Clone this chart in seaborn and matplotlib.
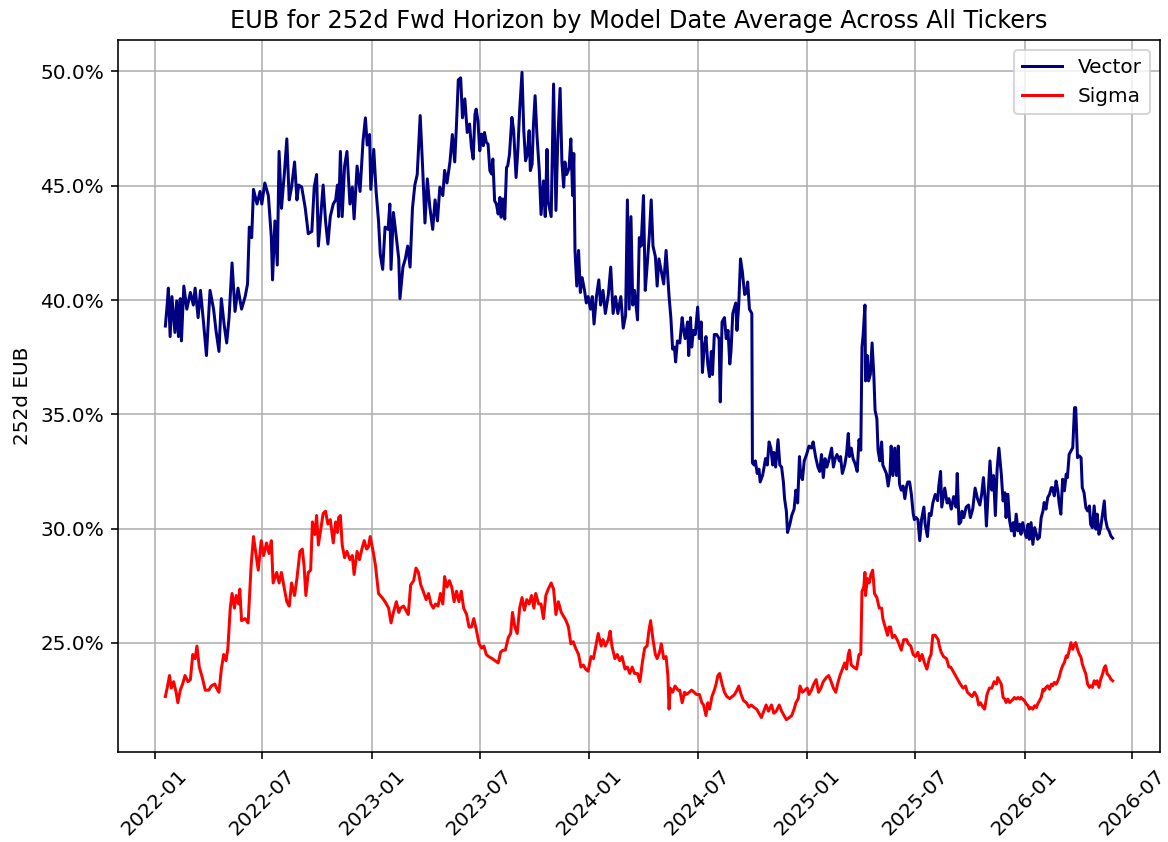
import numpy as np
import pandas as pd
import matplotlib
matplotlib.use("Agg")
import matplotlib.pyplot as plt
import matplotlib.dates as mdates
from matplotlib.ticker import PercentFormatter
import seaborn as sns

# ---------------- data ----------------
start_date = "2022-01-01"   # day offsets below count from this date

vector_day = [
    18, 21, 23, 26, 29, 34, 37, 40, 43, 45, 49, 54, 60, 65, 68, 73, 77, 82, 87, 93,
    99, 103, 108, 112, 117, 121, 125, 130, 135, 140, 146, 152, 156, 159, 163, 166, 172, 177, 180, 185,
    191, 196, 198, 202, 206, 209, 213, 218, 222, 226, 230, 235, 239, 242, 247, 253, 258, 264, 268, 272,
    275,
    283, 287, 291, 295, 300, 304, 307, 309, 312, 315, 319, 323, 328, 332, 335, 340, 345, 350, 354, 357,
    361, 363, 368, 372, 376, 379, 383, 387, 392, 395, 397, 401, 406, 410, 412, 417, 421, 425, 429, 433,
    437, 441, 446, 450, 454, 458, 462, 467, 471, 475, 479, 484, 487, 491, 496, 500, 504, 507, 510, 514,
    517, 521, 525,
    529, 532, 535, 538, 540, 543, 546, 549, 552, 554, 557, 560, 563, 566, 568, 571, 574, 577, 580, 582,
    585, 588, 591, 593, 596, 600, 603, 607, 610, 613, 617, 620, 623, 626, 629, 631, 634, 636, 639, 642,
    646, 649, 653, 656, 659, 661, 666, 670, 674, 677, 681, 684, 687, 689, 692, 696, 699, 702, 704, 706,
    709, 712, 715, 718, 722, 725, 728, 732, 735, 738, 742, 746, 749, 753, 757, 762, 766, 770, 774, 778,
    783, 787, 791, 794, 797, 800, 803, 806, 811, 814, 817, 821, 824, 827, 831, 834, 837, 841, 844, 847,
    851, 855, 859,
    864, 867, 870, 873, 875, 878, 882, 886, 888, 891, 895, 897, 900, 902, 905, 908, 912, 915, 918, 920,
    923, 926, 929, 932, 935, 937, 940, 944, 948, 950, 953, 957, 960, 963, 966, 968, 971, 976, 978, 981,
    984, 987, 991, 994, 996, 999, 1003, 1004, 1007, 1009, 1012, 1015, 1017, 1021, 1023, 1026, 1029, 1032, 1035, 1038,
    1040, 1043, 1047, 1050, 1053, 1056, 1058, 1061, 1063, 1067, 1070, 1074, 1077, 1080, 1083, 1085, 1088, 1091, 1095, 1099,
    1103, 1106, 1110, 1114, 1117, 1120, 1123, 1126, 1129, 1133, 1137, 1140, 1143, 1146, 1150, 1152, 1155,
    1159, 1162, 1165, 1167, 1170, 1173, 1176, 1180, 1183, 1186, 1188, 1190, 1193, 1194, 1197, 1199, 1202, 1205, 1208, 1210,
    1213, 1215, 1218, 1221, 1223, 1226, 1229, 1232, 1235, 1237, 1240, 1243, 1246, 1249, 1251, 1254, 1257, 1260, 1263, 1265,
    1268, 1271, 1274, 1276, 1279, 1282, 1285, 1288, 1292, 1294, 1298, 1301, 1304, 1307, 1311, 1315, 1317, 1320, 1322, 1327,
    1331, 1334, 1338, 1342, 1346, 1348, 1351, 1354, 1356, 1359, 1363, 1367, 1370, 1374, 1378, 1382, 1386, 1389, 1392, 1395,
    1397, 1400, 1403, 1406, 1409, 1412, 1415, 1418,
    1422, 1425, 1428, 1430, 1433, 1436, 1439, 1442, 1444, 1447, 1450, 1453, 1455, 1458, 1461, 1464, 1467, 1469, 1472, 1475,
    1478, 1481, 1483, 1486, 1489, 1492, 1494, 1497, 1500, 1503, 1506, 1508, 1511, 1514, 1517, 1519, 1522, 1525, 1528, 1531,
    1533, 1536, 1539, 1542, 1545, 1547, 1550, 1553, 1556, 1558, 1561, 1564, 1567, 1570, 1572, 1575, 1578, 1581, 1583, 1586,
    1589, 1592, 1595, 1597, 1600, 1603, 1606, 1609,
]

vector_eub = [
    38.86, 39.78, 40.52, 38.40, 40.15, 38.58, 39.96, 38.40, 40.06, 38.21, 40.61, 39.60, 40.33, 39.78, 40.52, 39.23, 40.42, 39.04, 37.57, 40.42,
    39.60, 38.67, 37.75, 40.06, 38.86, 38.12, 39.23, 41.62, 39.50, 40.52, 39.60, 40.15, 40.70, 43.19, 42.73, 44.84, 44.20, 44.75, 44.20, 45.12,
    44.57, 42.73, 40.88, 43.46, 41.53, 46.50, 44.01, 45.58, 47.05, 44.38, 44.94, 46.04, 44.38, 45.03, 44.94, 44.01, 42.90, 43.00, 44.94, 45.49,
    42.36,
    45.03, 43.46, 42.45, 43.65, 44.20, 44.38, 45.03, 43.65, 46.50, 43.65, 45.86, 46.50, 44.20, 44.94, 43.55, 45.86, 44.75, 46.96, 47.97, 46.78,
    47.24, 44.84, 46.59, 44.75, 43.46, 41.99, 41.34, 43.19, 43.09, 44.20, 41.34, 43.83, 42.73, 41.80, 40.06, 41.44, 41.80, 42.36, 41.44, 44.01,
    45.03, 45.49, 48.07, 45.86, 43.37, 45.30, 44.11, 43.09, 44.38, 43.46, 44.94, 44.57, 45.67, 45.12, 46.04, 47.24, 46.04, 47.70, 49.63, 49.72,
    47.97, 48.80, 47.33,
    47.70, 46.68, 46.17, 48.13, 48.35, 47.84, 46.53, 47.26, 46.75, 47.33, 46.90, 46.82, 45.66, 45.51, 46.17, 44.34, 44.20, 43.76, 44.49, 43.62,
    44.42, 43.54, 45.80, 45.87, 46.38, 47.99, 47.41, 45.36, 46.53, 48.28, 49.96, 47.41, 46.09, 46.38, 47.41, 45.66, 45.95, 47.55, 48.94, 47.26,
    45.67, 43.74, 45.21, 43.65, 46.59, 44.29, 43.65, 49.45, 43.92, 46.96, 49.26, 46.04, 44.94, 46.04, 45.49, 45.76, 47.05, 44.57, 46.41, 42.17,
    40.61, 42.17, 40.33, 40.98, 40.42, 39.87, 40.15, 39.60, 40.15, 38.95, 40.15, 40.88, 39.78, 40.42, 39.41, 40.24, 41.44, 39.41, 40.15, 39.41,
    40.15, 38.77, 39.32, 44.38, 39.60, 43.65, 39.78, 40.42, 39.13, 42.73, 42.36, 44.57, 40.42, 41.44, 42.90, 44.38, 42.36, 41.90, 40.61, 41.80,
    41.25, 40.70, 42.17,
    40.15, 39.23, 37.85, 37.94, 37.29, 38.21, 38.12, 39.23, 38.77, 38.31, 39.04, 37.57, 39.23, 37.94, 38.67, 38.49, 39.69, 38.31, 39.04, 36.83,
    37.94, 38.40, 37.20, 36.65, 37.75, 36.74, 38.49, 38.49, 38.31, 35.54, 39.04, 39.23, 38.31, 38.67, 37.20, 37.75, 39.41, 39.87, 38.67, 39.78,
    41.80, 41.25, 40.24, 40.33, 40.79, 39.60, 39.41, 32.87, 32.78, 32.96, 32.41, 32.60, 32.04, 32.32, 32.60, 33.06, 32.78, 33.79, 33.52, 32.78,
    33.33, 32.69, 33.89, 32.78, 32.69, 32.04, 31.31, 30.76, 29.83, 30.20, 30.57, 30.85, 31.68, 31.12, 33.15, 32.32, 32.14, 32.96, 33.24, 33.61,
    33.52, 33.79, 33.15, 32.69, 32.50, 33.24, 32.23, 33.06, 32.69, 33.06, 33.52, 32.69, 33.06, 33.24, 32.96, 33.15, 32.41,
    32.78, 33.24, 34.16, 33.15, 33.52, 33.06, 32.87, 32.50, 33.89, 33.43, 37.94, 38.49, 39.78, 36.46, 37.57, 36.46, 36.74, 38.12, 36.65, 35.17,
    34.81, 33.43, 32.96, 33.79, 32.78, 32.60, 32.41, 31.86, 32.41, 33.61, 32.32, 33.52, 32.32, 33.61, 31.95, 31.68, 31.86, 31.31, 31.86, 32.04,
    32.04, 31.49, 30.66, 30.39, 30.48, 30.39, 29.47, 30.39, 30.94, 30.20, 29.65, 30.66, 30.57, 31.12, 31.49, 31.22, 31.86, 32.50, 30.94, 31.77,
    31.12, 31.31, 30.85, 31.40, 30.94, 32.41, 30.20, 30.29, 30.76, 30.48, 30.94, 31.03, 30.48, 30.85, 31.77, 31.31, 31.03, 31.49, 32.23, 31.22,
    30.11, 31.59, 32.96, 31.68, 32.32, 30.57, 32.60, 33.52,
    32.38, 31.21, 31.57, 30.48, 31.50, 30.34, 29.90, 30.26, 29.68, 30.63, 29.90, 30.19, 29.75, 30.26, 29.90, 29.61, 30.19, 29.53, 30.26, 29.31,
    30.04, 29.75, 29.53, 29.61, 30.48, 30.77, 31.14, 30.85, 31.36, 31.50, 31.79, 31.79, 31.43, 32.08, 31.65, 31.14, 30.63, 32.16, 31.65, 32.38,
    32.23, 33.25, 33.40, 33.54, 35.29, 35.29, 33.10, 33.18, 33.10, 31.79, 31.57, 30.92, 30.77, 30.99, 30.19, 30.04, 30.99, 29.97, 30.63, 29.75,
    30.04, 30.63, 31.21, 30.41, 30.04, 29.90, 29.68, 29.58,
]

sigma_day = [
    18, 21, 25, 28, 32, 36, 39, 43, 47, 51, 56, 60, 64, 68, 71, 75, 80, 85, 91, 95,
    101, 104, 108, 112, 116, 120, 123, 127, 130, 134, 137, 141, 143, 146, 152, 157, 162, 166, 170, 174,
    179, 183, 188, 192, 196, 199, 205, 209, 213, 218, 222, 226, 230, 235, 239, 244, 248, 251, 254, 258,
    262, 265, 269, 272, 275,
    283, 287, 291, 295, 300, 304, 307, 309, 312, 315, 319, 323, 328, 332, 335, 340, 344, 348, 352, 356,
    359, 362, 367, 371, 376, 382, 387, 393, 397, 401, 406, 410, 413, 418, 422, 426, 430, 435, 439, 443,
    447, 451, 456, 460, 464, 468, 472, 476, 480, 484, 487, 491, 495, 499, 503, 507, 511, 515, 519, 524,
    528, 532, 536, 540, 545, 549, 553, 557, 561, 567,
    577, 581, 585, 589, 594, 598, 601, 605, 609, 613, 617, 621, 625, 629, 633, 637, 640, 645, 649, 653,
    657, 661, 666, 670, 674, 678, 683, 687, 691, 695, 699, 703, 707, 712, 716, 720, 724, 728, 733, 737,
    741, 745, 750, 753, 757, 762, 765, 768, 773, 777, 781, 785, 790, 794, 798, 802, 806, 811, 815, 819,
    823, 827, 830, 833, 837, 841, 844, 848, 851, 855, 859, 862, 864, 866, 870, 874, 879,
    882, 886, 890, 893, 898, 902, 906, 910, 915, 919, 922, 926, 929, 932, 936, 940, 943, 946, 949, 953,
    957, 961, 966, 970, 974, 978, 981, 985, 989, 994, 998, 1002, 1006, 1011, 1015, 1019, 1023, 1027, 1031, 1036,
    1040, 1044, 1049, 1053, 1057, 1061, 1066, 1070, 1074, 1077, 1081, 1084, 1088, 1092, 1096, 1099, 1103, 1107, 1111, 1115,
    1119, 1123, 1128, 1132, 1135, 1140, 1144, 1147, 1151, 1155,
    1159, 1162, 1165, 1167, 1170, 1174, 1179, 1183, 1186, 1188, 1191, 1193, 1194, 1197, 1200, 1203, 1206, 1209, 1213, 1217,
    1221, 1223, 1227, 1231, 1233, 1236, 1239, 1243, 1247, 1250, 1254, 1258, 1263, 1266, 1270, 1274, 1278, 1282, 1285, 1289,
    1293, 1297, 1301, 1304, 1307, 1311, 1316, 1318, 1321, 1325, 1330, 1334, 1337, 1341, 1345, 1349, 1353, 1358, 1362, 1365,
    1369, 1373, 1377, 1381, 1384, 1387, 1391, 1394, 1398, 1402, 1406, 1410, 1414, 1416,
    1422, 1425, 1428, 1430, 1433, 1436, 1439, 1442, 1444, 1447, 1450, 1453, 1455, 1458, 1461, 1464, 1467, 1469, 1472, 1475,
    1478, 1481, 1483, 1486, 1489, 1492, 1494, 1497, 1500, 1503, 1506, 1508, 1511, 1514, 1517, 1519, 1522, 1525, 1528, 1531,
    1533, 1536, 1539, 1542, 1545, 1547, 1550, 1553, 1556, 1558, 1561, 1564, 1567, 1570, 1572, 1575, 1578, 1581, 1583, 1586,
    1589, 1592, 1595, 1597, 1600, 1603, 1606, 1609,
]

sigma_eub = [
    22.65, 23.02, 23.57, 23.02, 23.30, 22.84, 22.38, 22.93, 23.20, 23.57, 23.30, 23.39, 24.49, 24.31, 24.86, 23.94, 23.48, 22.93, 22.93, 23.11,
    23.20, 23.02, 22.84, 23.85, 24.49, 24.22, 24.77, 26.52, 27.16, 26.52, 27.07, 26.70, 27.35, 25.97, 26.06, 25.87, 28.36, 29.65, 28.91, 28.18,
    29.47, 28.82, 29.37, 28.91, 29.47, 27.62, 28.08, 27.62, 28.08, 27.35, 26.80, 26.61, 27.62, 27.07, 27.81, 29.00, 29.10, 28.36, 27.07, 28.08,
    28.18, 30.29, 29.74, 30.57, 29.28,
    30.66, 30.76, 30.20, 30.39, 29.37, 30.29, 29.83, 30.48, 30.57, 29.28, 28.73, 29.00, 28.64, 28.82, 27.99, 29.00, 28.64, 29.10, 29.47, 29.10,
    29.19, 29.65, 29.00, 28.36, 27.16, 26.98, 26.80, 26.52, 25.87, 26.33, 26.80, 26.33, 26.52, 26.61, 26.43, 26.24, 27.53, 27.72, 28.27, 28.08,
    27.53, 27.26, 26.89, 27.16, 26.70, 26.52, 26.70, 26.61, 27.16, 26.70, 27.90, 27.44, 27.72, 27.44, 26.80, 27.26, 26.80, 27.26, 26.52, 26.24,
    25.69, 25.69, 26.06, 25.60, 24.96, 24.77, 24.86, 24.49, 24.40, 24.31,
    24.12, 24.59, 24.68, 24.68, 25.23, 25.41, 26.33, 25.69, 25.41, 26.52, 26.98, 26.43, 26.89, 26.70, 27.07, 26.52, 27.16, 26.70, 26.70, 26.06,
    27.07, 27.35, 27.62, 27.35, 26.24, 26.80, 26.33, 26.15, 25.97, 25.69, 24.96, 25.05, 24.77, 24.49, 23.94, 24.03, 23.85, 23.76, 24.40, 24.31,
    24.86, 25.41, 24.86, 25.14, 24.86, 25.14, 25.51, 24.86, 24.31, 24.49, 24.22, 24.40, 23.85, 23.94, 23.66, 23.94, 23.66, 23.66, 23.30, 24.12,
    24.77, 24.86, 25.51, 25.97, 25.14, 24.49, 24.31, 24.59, 24.96, 24.31, 24.40, 23.57, 22.10, 23.02, 22.84, 23.11, 22.93,
    22.93, 22.38, 22.84, 22.74, 22.84, 22.93, 22.84, 22.74, 22.74, 22.38, 22.28, 21.82, 22.38, 22.10, 22.65, 22.93, 23.20, 23.57, 23.66, 23.20,
    22.84, 22.65, 22.56, 22.65, 22.74, 22.93, 23.11, 22.74, 22.47, 22.38, 22.19, 22.28, 22.19, 22.10, 21.92, 21.73, 22.01, 22.28, 22.01, 22.28,
    21.92, 22.01, 22.28, 22.01, 21.82, 21.64, 21.73, 21.82, 22.10, 22.38, 22.56, 23.11, 22.84, 22.93, 23.02, 22.74, 22.93, 23.20, 23.39, 22.84,
    23.02, 23.30, 23.48, 23.57, 23.39, 23.02, 22.84, 23.20, 23.57, 23.85,
    24.12, 23.85, 24.49, 24.68, 24.03, 23.94, 23.85, 24.49, 24.49, 27.25, 27.44, 28.08, 27.07, 27.81, 27.62, 27.99, 28.18, 27.16, 26.98, 26.52,
    26.52, 26.06, 25.69, 25.33, 25.69, 25.69, 25.23, 25.33, 25.14, 24.96, 24.68, 25.14, 25.14, 24.96, 24.86, 24.49, 24.40, 24.59, 24.22, 24.49,
    24.12, 23.85, 24.31, 24.49, 25.33, 25.33, 25.14, 24.86, 24.59, 24.40, 24.31, 23.94, 23.94, 23.76, 23.57, 23.39, 23.20, 23.02, 23.11, 22.84,
    22.74, 22.65, 22.84, 22.65, 22.28, 22.38, 22.19, 22.10, 22.74, 23.02, 23.02, 23.30, 23.20, 23.48,
    23.19, 22.61, 22.54, 22.39, 22.54, 22.39, 22.46, 22.54, 22.61, 22.54, 22.61, 22.54, 22.61, 22.54, 22.46, 22.32, 22.25, 22.10, 22.17, 22.10,
    22.25, 22.17, 22.32, 22.46, 22.61, 22.97, 22.90, 23.05, 23.12, 22.97, 23.19, 23.12, 23.27, 23.19, 23.34, 23.48, 23.78, 24.00, 24.14, 24.43,
    24.36, 24.65, 25.01, 24.72, 24.94, 25.01, 24.72, 24.50, 24.36, 24.07, 23.85, 23.63, 23.19, 23.05, 23.12, 23.05, 23.34, 23.19, 23.34, 23.05,
    23.41, 23.63, 23.92, 24.00, 23.63, 23.56, 23.41, 23.34,
]

series_names = ["Vector", "Sigma"]
series_colors = ["navy", "red"]
title_text = "EUB for 252d Fwd Horizon by Model Date Average Across All Tickers"
y_label = "252d EUB"

# ---------------- build frames ----------------
base = pd.Timestamp(start_date)
vec_df = pd.DataFrame({
    "date": base + pd.to_timedelta(np.asarray(vector_day), unit="D"),
    "eub": vector_eub,
})
sig_df = pd.DataFrame({
    "date": base + pd.to_timedelta(np.asarray(sigma_day), unit="D"),
    "eub": sigma_eub,
})

# ---------------- plot ----------------
W, H, DPI = 1168, 842, 144
fig = plt.figure(figsize=(W / DPI, H / DPI), dpi=DPI)
ax = fig.add_axes([118 / W, 1 - 752 / H, (1160 - 118) / W, (752 - 40) / H])

sns.lineplot(data=vec_df, x="date", y="eub", ax=ax, color=series_colors[0],
             label=series_names[0], linewidth=1.5, estimator=None)
sns.lineplot(data=sig_df, x="date", y="eub", ax=ax, color=series_colors[1],
             label=series_names[1], linewidth=1.5, estimator=None)

ax.set_title(title_text, fontsize=12)
ax.set_ylabel(y_label, fontsize=10)
ax.set_xlabel("")
ax.grid(True, color="#b0b0b0", linewidth=0.8)
ax.yaxis.set_major_formatter(PercentFormatter(xmax=100, decimals=1))
ax.xaxis.set_major_locator(mdates.MonthLocator(bymonth=[1, 7]))
ax.xaxis.set_major_formatter(mdates.DateFormatter("%Y-%m"))
ax.tick_params(axis="x", labelrotation=45, labelsize=10)
ax.tick_params(axis="y", labelsize=10)
ax.legend(loc="upper right", fontsize=10)
for s in ax.spines.values():
    s.set_visible(True)
    s.set_color("black")

fig.savefig("out.png", dpi=DPI)
